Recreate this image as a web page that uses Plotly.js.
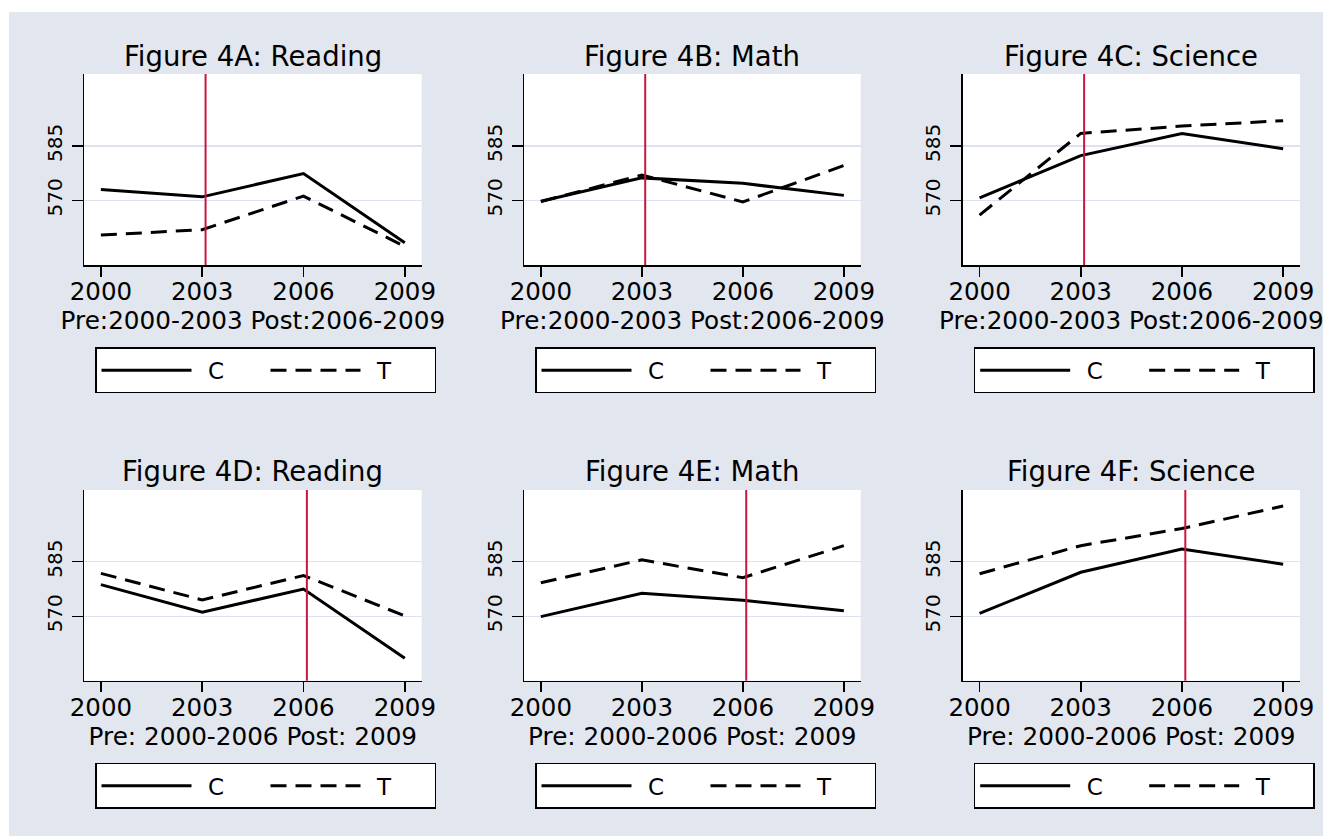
<!DOCTYPE html>
<html><head><meta charset="utf-8">
<script src="https://cdn.plot.ly/plotly-3.0.1.min.js"></script>
<style>
html,body{margin:0;padding:0;background:#ffffff;}
#chart{position:absolute;left:9px;top:12px;width:1314px;height:824px;}
</style>
</head><body><div id="chart"></div>
<script>
// ---------------- data ----------------
const years = [2000, 2003, 2006, 2009];
const yearLabels = ['2000', '2003', '2006', '2009'];
const yTicks = [570, 585];
const yTickLabels = ['570', '585'];
const seriesNames = ['C', 'T'];
const panelTitles = ['Figure 4A: Reading', 'Figure 4B: Math', 'Figure 4C: Science',
                     'Figure 4D: Reading', 'Figure 4E: Math', 'Figure 4F: Science'];
const xTitles = ['Pre:2000-2003 Post:2006-2009', 'Pre:2000-2003 Post:2006-2009', 'Pre:2000-2003 Post:2006-2009',
                 'Pre: 2000-2006 Post: 2009', 'Pre: 2000-2006 Post: 2009', 'Pre: 2000-2006 Post: 2009'];
const cutoffYears = [2003.1, 2003.1, 2003.1, 2006.1, 2006.1, 2006.1];

const readingC_A = [573.0, 571.0, 577.4, 558.4];
const readingT_A = [560.5, 562.0, 571.2, 557.4];
const mathC_B    = [569.8, 576.2, 574.7, 571.4];
const mathT_B    = [569.7, 577.0, 569.6, 579.6];
const scienceC_C = [570.7, 582.3, 588.4, 584.2];
const scienceT_C = [566.0, 588.4, 590.4, 591.9];
const readingC_D = [578.7, 571.1, 577.5, 558.5];
const readingT_D = [581.8, 574.5, 581.2, 570.1];
const mathC_E    = [569.9, 576.3, 574.4, 571.5];
const mathT_E    = [579.2, 585.5, 580.6, 589.4];
const scienceC_F = [570.8, 582.1, 588.5, 584.3];
const scienceT_F = [581.7, 589.4, 594.1, 600.3];

const controlSeries = [readingC_A, mathC_B, scienceC_C, readingC_D, mathC_E, scienceC_F];
const treatSeries   = [readingT_A, mathT_B, scienceT_C, readingT_D, mathT_E, scienceT_F];

// ---------------- layout geometry (pixels of the 1314x824 div) ----------------
const W = 1314, H = 824, OX = 9, OY = 12;
const colPx = [[84, 421.7], [524, 860.7], [962.7, 1300]];
const rowPx = [[74, 265], [490, 680.7]];
const titlePx = [56, 471];
const legendTopPx = [347.3, 762.7];
const legendLeftOffset = 11;   // legend box left = plot left + offset
const px2x = p => (p - OX) / W;
const px2y = p => 1 - (p - OY) / H;

const FONT = 'DejaVu Sans';
const BG = '#E1E6EF';
const GRID = '#DCE2EE';
const RED = '#C9163F';
const LEGEND_PAD = '\u2002';

const traces = [];
const layout = {
  width: W, height: H,
  margin: {l: 0, r: 0, t: 0, b: 0},
  paper_bgcolor: BG,
  plot_bgcolor: '#ffffff',
  font: {family: FONT, color: '#000000', size: 23},
  showlegend: true,
  annotations: [],
  shapes: []
};

for (let i = 0; i < 6; i++) {
  const r = Math.floor(i / 3), c = i % 3;
  const sfx = i === 0 ? '' : String(i + 1);
  const xa = 'x' + sfx, ya = 'y' + sfx;
  const legName = 'legend' + sfx;
  traces.push({
    x: years, y: controlSeries[i], type: 'scatter', mode: 'lines',
    name: LEGEND_PAD + seriesNames[0], xaxis: xa, yaxis: ya, legend: legName,
    line: {color: '#000000', width: 3}, hoverinfo: 'x+y'
  });
  traces.push({
    x: years, y: treatSeries[i], type: 'scatter', mode: 'lines',
    name: LEGEND_PAD + seriesNames[1], xaxis: xa, yaxis: ya, legend: legName,
    line: {color: '#000000', width: 3, dash: '16px,9px'}, hoverinfo: 'x+y'
  });
  layout['xaxis' + sfx] = {
    domain: [px2x(colPx[c][0]), px2x(colPx[c][1])],
    anchor: ya,
    range: [1999.5, 2009.5],
    tickmode: 'array', tickvals: years, ticktext: yearLabels,
    ticks: 'outside', ticklen: 10, tickwidth: 1.5, tickcolor: '#000000',
    ticklabelstandoff: -6,
    showline: true, linecolor: '#000000', linewidth: 1.5,
    showgrid: false, zeroline: false, fixedrange: true,
    tickfont: {family: FONT, size: 24.5, color: '#000000'},
    title: {text: xTitles[i], font: {family: FONT, size: 24.7, color: '#000000'}, standoff: 0}
  };
  layout['yaxis' + sfx] = {
    domain: [px2y(rowPx[r][1]), px2y(rowPx[r][0])],
    anchor: xa,
    range: [552.3, 604.7],
    tickmode: 'array', tickvals: yTicks, ticktext: yTickLabels,
    tickangle: -90,
    ticks: 'outside', ticklen: 11, tickwidth: 1.5, tickcolor: '#000000',
    ticklabelstandoff: 2,
    showline: true, linecolor: '#000000', linewidth: 1.5,
    showgrid: true, gridcolor: GRID, gridwidth: 1.5,
    zeroline: false, fixedrange: true,
    tickfont: {family: FONT, size: 20, color: '#000000'}
  };
  layout[legName] = {
    orientation: 'h',
    x: px2x(colPx[c][0] + legendLeftOffset), xanchor: 'left',
    y: px2y(legendTopPx[r]), yanchor: 'top',
    bgcolor: '#ffffff', bordercolor: '#000000', borderwidth: 1.5,
    font: {family: FONT, size: 23, color: '#000000'},
    itemwidth: 90,
    entrywidth: 64, entrywidthmode: 'pixels',
    traceorder: 'normal'
  };
  layout.annotations.push({
    text: panelTitles[i], xref: 'paper', yref: 'paper',
    x: px2x((colPx[c][0] + colPx[c][1]) / 2), y: px2y(titlePx[r]),
    xanchor: 'center', yanchor: 'middle', showarrow: false,
    font: {family: FONT, size: 27.5, color: '#000000'}
  });
  layout.shapes.push({
    type: 'line', xref: xa, yref: ya + ' domain',
    x0: cutoffYears[i], x1: cutoffYears[i], y0: 0, y1: 1,
    line: {color: RED, width: 2}, layer: 'above'
  });
}

Plotly.newPlot('chart', traces, layout, {staticPlot: true, displayModeBar: false});
</script>
</body></html>
